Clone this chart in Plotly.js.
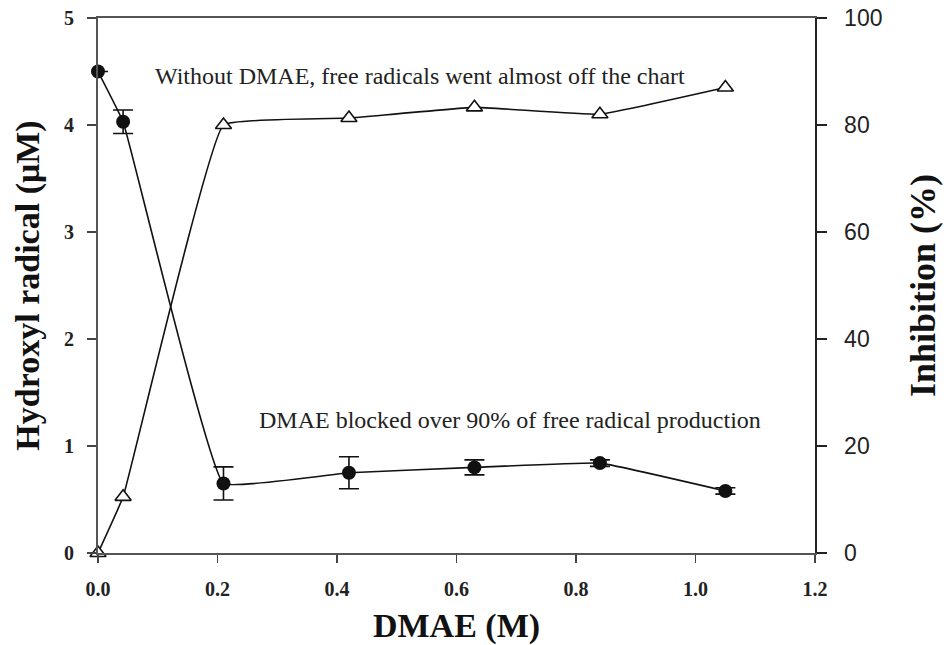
<!DOCTYPE html>
<html>
<head>
<meta charset="utf-8">
<script src="https://cdn.plot.ly/plotly-3.0.1.min.js"></script>
<style>html,body{margin:0;padding:0;background:#fff;}#chart{width:946px;height:645px;}</style>
</head>
<body>
<div id="chart"></div>
<script>
// DMAE concentration (M)
const dmae = [0.0, 0.042, 0.21, 0.42, 0.63, 0.84, 1.05];
// Hydroxyl radical (uM), filled circles
const hydroxyl = [4.5, 4.03, 0.65, 0.75, 0.80, 0.84, 0.58];
const hydroxylErr = [0, 0.11, 0.155, 0.15, 0.07, 0.03, 0.03];
// Inhibition (%), open triangles
const inhibition = [0, 10.5, 80, 81.3, 83.3, 82, 87];

const xTicks = [0, 0.2, 0.4, 0.6, 0.8, 1.0, 1.2];
const xTickText = ['0.0', '0.2', '0.4', '0.6', '0.8', '1.0', '1.2'];
const yTicks = [0, 1, 2, 3, 4, 5];
const y2Ticks = [0, 20, 40, 60, 80, 100];

const noteTop = 'Without DMAE, free radicals went almost off the chart';
const noteBottom = 'DMAE blocked over 90% of free radical production';

const serif = 'Liberation Serif, Times New Roman, serif';
const sans = 'Liberation Sans, Arial, sans-serif';

const traces = [
  {
    x: dmae, y: inhibition, yaxis: 'y2', type: 'scatter', mode: 'lines+markers',
    line: {color: '#111', width: 1.6, shape: 'spline', smoothing: 0.25},
    marker: {symbol: 'triangle-up', size: 14, color: '#fff', line: {color: '#111', width: 1.6}},
    cliponaxis: false, showlegend: false, name: 'Inhibition (%)'
  },
  {
    x: dmae, y: hydroxyl, type: 'scatter', mode: 'lines+markers',
    line: {color: '#111', width: 1.6, shape: 'spline', smoothing: 0.25},
    marker: {symbol: 'circle', size: 14, color: '#111'},
    error_y: {type: 'data', array: hydroxylErr, visible: true, color: '#111', thickness: 1.6, width: 10},
    cliponaxis: false, showlegend: false, name: 'Hydroxyl radical (μM)'
  }
];

const layout = {
  width: 946, height: 645,
  margin: {l: 98, r: 131, t: 18, b: 92},
  paper_bgcolor: '#fff', plot_bgcolor: '#fff',
  xaxis: {
    range: [0, 1.2], tickvals: xTicks, ticktext: xTickText,
    showgrid: false, zeroline: false, showline: true, linecolor: '#555', linewidth: 2, mirror: true,
    ticks: 'outside', ticklen: 8, tickwidth: 1.5, tickcolor: '#444', ticklabelstandoff: 9,
    tickfont: {family: serif, size: 20, color: '#222', weight: 'bold'},
    title: {text: '<b>DMAE (M)</b>', font: {family: serif, size: 34, color: '#111'}, standoff: 14}
  },
  yaxis: {
    range: [0, 5], tickvals: yTicks,
    showgrid: false, zeroline: false, showline: true, linecolor: '#555', linewidth: 2,
    ticks: 'outside', ticklen: 9, tickwidth: 1.5, tickcolor: '#444', ticklabelstandoff: 9,
    tickfont: {family: serif, size: 20, color: '#222', weight: 'bold'},
    title: {text: '<b>Hydroxyl radical (μM)</b>', font: {family: serif, size: 34, color: '#111'}, standoff: 14}
  },
  yaxis2: {
    range: [0, 100], tickvals: y2Ticks, overlaying: 'y', side: 'right',
    showgrid: false, zeroline: false, showline: true, linecolor: '#222', linewidth: 1.5,
    ticks: 'outside', ticklen: 10, tickwidth: 1.5, tickcolor: '#222', ticklabelstandoff: 13,
    tickfont: {family: sans, size: 23, color: '#222'},
    title: {text: '<b>Inhibition (%)</b>', font: {family: serif, size: 36, color: '#111'}, standoff: 28}
  },
  annotations: [
    {text: noteTop, xref: 'x', yref: 'y', x: 0.539, y: 4.46, showarrow: false,
     font: {family: serif, size: 24, color: '#222'}},
    {text: noteBottom, xref: 'x', yref: 'y', x: 0.69, y: 1.24, showarrow: false,
     font: {family: serif, size: 24, color: '#222'}}
  ]
};

Plotly.newPlot('chart', traces, layout, {displayModeBar: false, staticPlot: true});
</script>
</body>
</html>
